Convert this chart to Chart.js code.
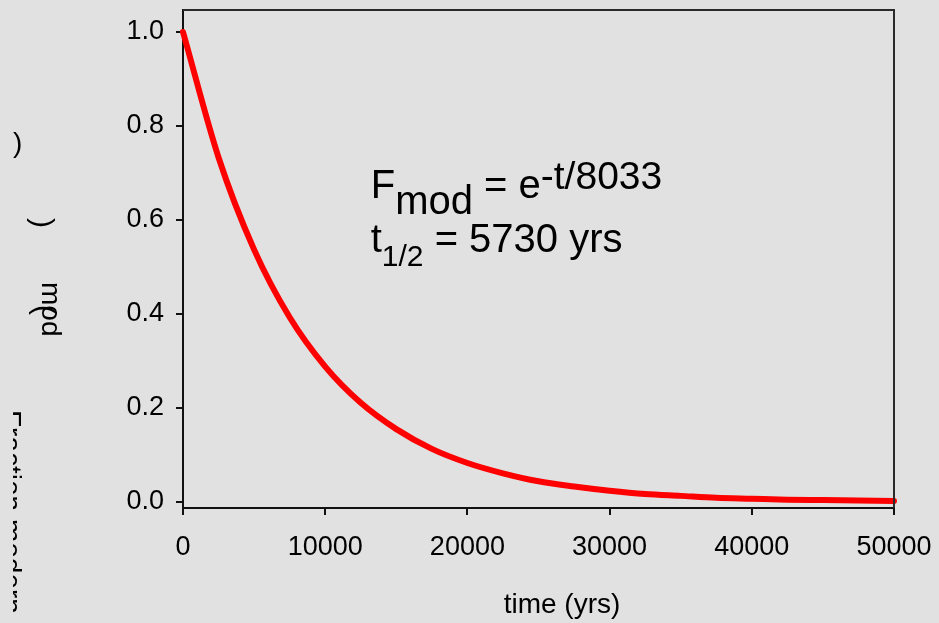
<!DOCTYPE html>
<html>
<head>
<meta charset="utf-8">
<title>Fraction modern vs time</title>
<script src="https://cdn.jsdelivr.net/npm/chart.js@4/dist/chart.umd.min.js"></script>
<style>
  html, body { margin: 0; padding: 0; background: #e1e1e1; }
  #wrap { width: 939px; height: 623px; }
</style>
</head>
<body>
<div id="wrap"><canvas id="decay" width="939" height="623"></canvas></div>
<script>
// decay curve, read every 2500 yrs
const years = [0, 2500, 5000, 7500, 10000, 12500, 15000, 17500, 20000, 22500, 25000,
               27500, 30000, 32500, 35000, 37500, 40000, 42500, 45000, 47500, 50000];
const fmod = [1.000, 0.733, 0.537, 0.393, 0.288, 0.211, 0.155, 0.113, 0.083, 0.061, 0.044,
              0.033, 0.024, 0.017, 0.013, 0.009, 0.007, 0.005, 0.004, 0.003, 0.002];

const xTicks = [0, 10000, 20000, 30000, 40000, 50000];
const yTicks = [0.0, 0.2, 0.4, 0.6, 0.8, 1.0];

const FONT = '"Liberation Sans", Arial, sans-serif';
const INK = '#111';

// top + right frame lines
const frame = {
    id: 'frame',
    afterDraw(chart) {
        const { ctx, chartArea: a } = chart;
        ctx.save();
        ctx.strokeStyle = '#2a2a2a';
        ctx.lineWidth = 2;
        ctx.beginPath();
        ctx.moveTo(a.left, a.top);
        ctx.lineTo(a.right, a.top);
        ctx.lineTo(a.right, a.bottom);
        ctx.stroke();
        ctx.restore();
    }
};

// draws a run of [text, size, dy] pieces left to right
function drawRun(ctx, x, y, parts) {
    parts.forEach(([txt, size, dy]) => {
        ctx.font = size + 'px ' + FONT;
        ctx.fillText(txt, x, y + dy);
        x += ctx.measureText(txt).width;
    });
}

function rotText(ctx, txt, size, x, y) {
    ctx.save();
    ctx.translate(x, y);
    ctx.rotate(Math.PI / 2);
    ctx.font = size + 'px ' + FONT;
    ctx.fillText(txt, 0, 0);
    ctx.restore();
}

// equation text + axis titles
const labels = {
    id: 'labels',
    afterDraw(chart) {
        const { ctx } = chart;
        const xs = chart.scales.x, ys = chart.scales.y;
        ctx.save();
        ctx.fillStyle = '#000';
        ctx.textBaseline = 'alphabetic';
        ctx.textAlign = 'left';

        const ex = xs.getPixelForValue(13200);
        drawRun(ctx, ex, ys.getPixelForValue(0.647), [
            ['F', 40, 0], ['mod', 40, 16], [' = e', 40, 0], ['-t/8033', 39, -9]
        ]);
        drawRun(ctx, ex, ys.getPixelForValue(0.532), [
            ['t', 40, 0], ['1/2', 30, 14], [' = 5730 yrs', 40, 0]
        ]);

        // x title
        ctx.textAlign = 'center';
        ctx.font = '28px ' + FONT;
        ctx.fillText('time (yrs)', 562, 613);

        // y title, rotated and partly cut off at the left edge
        ctx.beginPath();
        ctx.rect(13, 0, 120, 623);
        ctx.clip();
        ctx.textAlign = 'left';
        rotText(ctx, 'Fraction modern (F', 28, 2, 410);
        rotText(ctx, 'mod', 28, 42, 282);
        rotText(ctx, '(', 30, 35, 305);
        rotText(ctx, ')', 30, 33, 218);
        ctx.font = '28px ' + FONT;
        ctx.fillText(')', 13, 152);
        ctx.restore();
    }
};

new Chart(document.getElementById('decay'), {
    type: 'line',
    data: {
        datasets: [{
            data: years.map((t, i) => ({ x: t, y: fmod[i] })),
            borderColor: '#ff0000',
            borderWidth: 6,
            borderCapStyle: 'round',
            borderJoinStyle: 'round',
            cubicInterpolationMode: 'monotone',
            pointRadius: 0,
            fill: false,
            clip: false
        }]
    },
    options: {
        responsive: false,
        animation: false,
        events: [],
        layout: { padding: { top: 10, right: 45, bottom: 0, left: 0 } },
        plugins: {
            legend: { display: false },
            tooltip: { enabled: false }
        },
        scales: {
            x: {
                type: 'linear',
                min: 0,
                max: 50000,
                afterFit(s) {
                    s.height = 115;
                    s.paddingLeft = 0;
                    s.paddingRight = 0;
                },
                afterBuildTicks(s) { s.ticks = xTicks.map(v => ({ value: v })); },
                border: { color: INK, width: 2 },
                grid: { drawOnChartArea: false, tickLength: 7, tickColor: INK, lineWidth: 2 },
                ticks: {
                    color: '#000',
                    padding: 16,
                    maxRotation: 0,
                    font: { family: FONT, size: 27 },
                    callback: v => String(v)
                }
            },
            y: {
                type: 'linear',
                min: -0.0128,
                max: 1.0468,
                afterFit(s) {
                    s.width = 183;
                    s.paddingTop = 0;
                    s.paddingBottom = 0;
                },
                afterBuildTicks(s) { s.ticks = yTicks.map(v => ({ value: v })); },
                border: { color: INK, width: 2 },
                grid: { drawOnChartArea: false, tickLength: 7, tickColor: INK, lineWidth: 2 },
                ticks: {
                    color: '#000',
                    padding: 12,
                    font: { family: FONT, size: 27 },
                    callback: v => v.toFixed(1)
                }
            }
        }
    },
    plugins: [frame, labels]
});
</script>
</body>
</html>
